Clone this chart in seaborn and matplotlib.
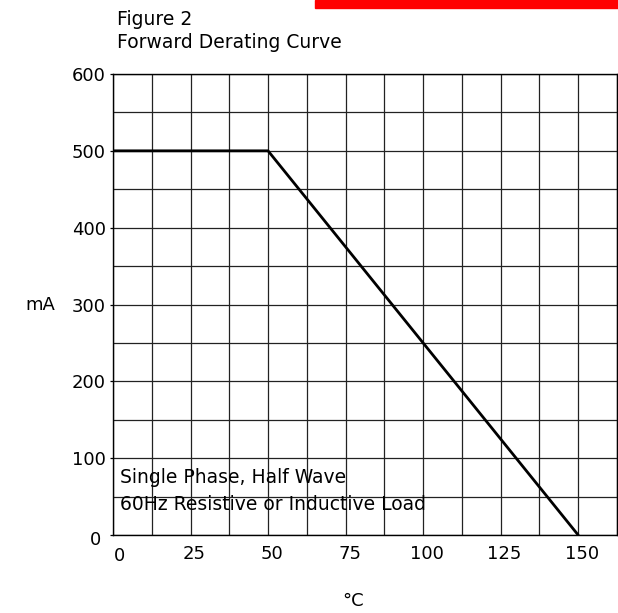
"""
Forward derating curve (Figure 2) redrawn with seaborn.
"""
import pandas as pd
import matplotlib
matplotlib.use("Agg")
import matplotlib.pyplot as plt
from matplotlib.patches import Rectangle
from matplotlib.ticker import MultipleLocator
from matplotlib.transforms import ScaledTranslation
import seaborn as sns

# data
temp_c = [0, 50, 150]
current_ma = [500, 500, 0]
x_ticks = [0, 25, 50, 75, 100, 125, 150]
y_ticks = [0, 100, 200, 300, 400, 500, 600]
note_lines = ["Single Phase, Half Wave", "60Hz Resistive or Inductive Load"]

sns.set_style("white")
plt.rcParams["font.family"] = ["DejaVu Sans"]
for key in ("text.color", "axes.labelcolor", "xtick.color", "ytick.color"):
    plt.rcParams[key] = "black"

FS = 13      # tick labels
FS_TXT = 13.5  # titles and notes

df = pd.DataFrame({"temp": temp_c, "current": current_ma})

fig = plt.figure(figsize=(6.18, 6.13), dpi=100)
ax = fig.add_axes([0.1828, 0.1272, 0.8155, 0.7521])

sns.lineplot(data=df, x="temp", y="current", ax=ax, color="black",
             linewidth=2.0, zorder=3)

ax.set_xlim(0, 162.5)
ax.set_ylim(0, 600)

# major ticks carry labels, minor ticks give the finer grid
ax.set_xticks(x_ticks)
ax.set_xticklabels([""] + [str(t) for t in x_ticks[1:]])
ax.set_yticks(y_ticks)
ax.set_yticklabels([str(t) for t in y_ticks])
ax.xaxis.set_minor_locator(MultipleLocator(12.5))
ax.yaxis.set_minor_locator(MultipleLocator(50))
ax.grid(True, which="both", color="#222222", linewidth=0.9)
ax.set_axisbelow(True)
ax.tick_params(axis="both", which="both", labelsize=FS)
ax.tick_params(axis="x", which="both", length=0, pad=7)
ax.tick_params(axis="y", which="major", left=True, length=2.2, width=0.9,
               pad=3)
ax.tick_params(axis="y", which="minor", length=0)

# x labels sit a few pixels right of their grid lines
shift = ScaledTranslation(4 / 100, 0, fig.dpi_scale_trans)
for lab in ax.get_xticklabels():
    lab.set_transform(lab.get_transform() + shift)
# the y "0" sits a little left and lower
ylab0 = ax.get_yticklabels()[0]
ylab0.set_transform(ylab0.get_transform()
                    + ScaledTranslation(-5 / 100, -3 / 100, fig.dpi_scale_trans))

for s in ax.spines.values():
    s.set_color("black")
    s.set_linewidth(1.0)

# the "0" on the x axis sits a bit lower and to the right
ax.annotate("0", xy=(0, 0), xycoords="data", xytext=(5, -15),
            textcoords="offset points", ha="center", va="center", fontsize=FS)

ax.set_xlabel("°C", fontsize=FS)
ax.xaxis.set_label_coords(0.476, -0.143)
ax.xaxis.label.set_va("center")
ax.set_ylabel("mA", fontsize=FS, rotation=0)
ax.yaxis.set_label_coords(-0.145, 0.5)
ax.yaxis.label.set_va("center")
ax.yaxis.label.set_ha("center")

ax.text(2.4, 68, note_lines[0], fontsize=FS_TXT, va="baseline", ha="left")
ax.text(2.4, 33, note_lines[1], fontsize=FS_TXT, va="baseline", ha="left")

fig.text(0.189, 0.9592, "Figure 2", fontsize=FS_TXT, va="baseline", ha="left")
fig.text(0.189, 0.9217, "Forward Derating Curve", fontsize=FS_TXT,
         va="baseline", ha="left")

fig.patches.append(Rectangle((315 / 618, 1 - 8 / 613), 1 - 315 / 618, 8 / 613,
                             transform=fig.transFigure, color="#ff0000",
                             zorder=0))

fig.savefig("out.png", dpi=100)
